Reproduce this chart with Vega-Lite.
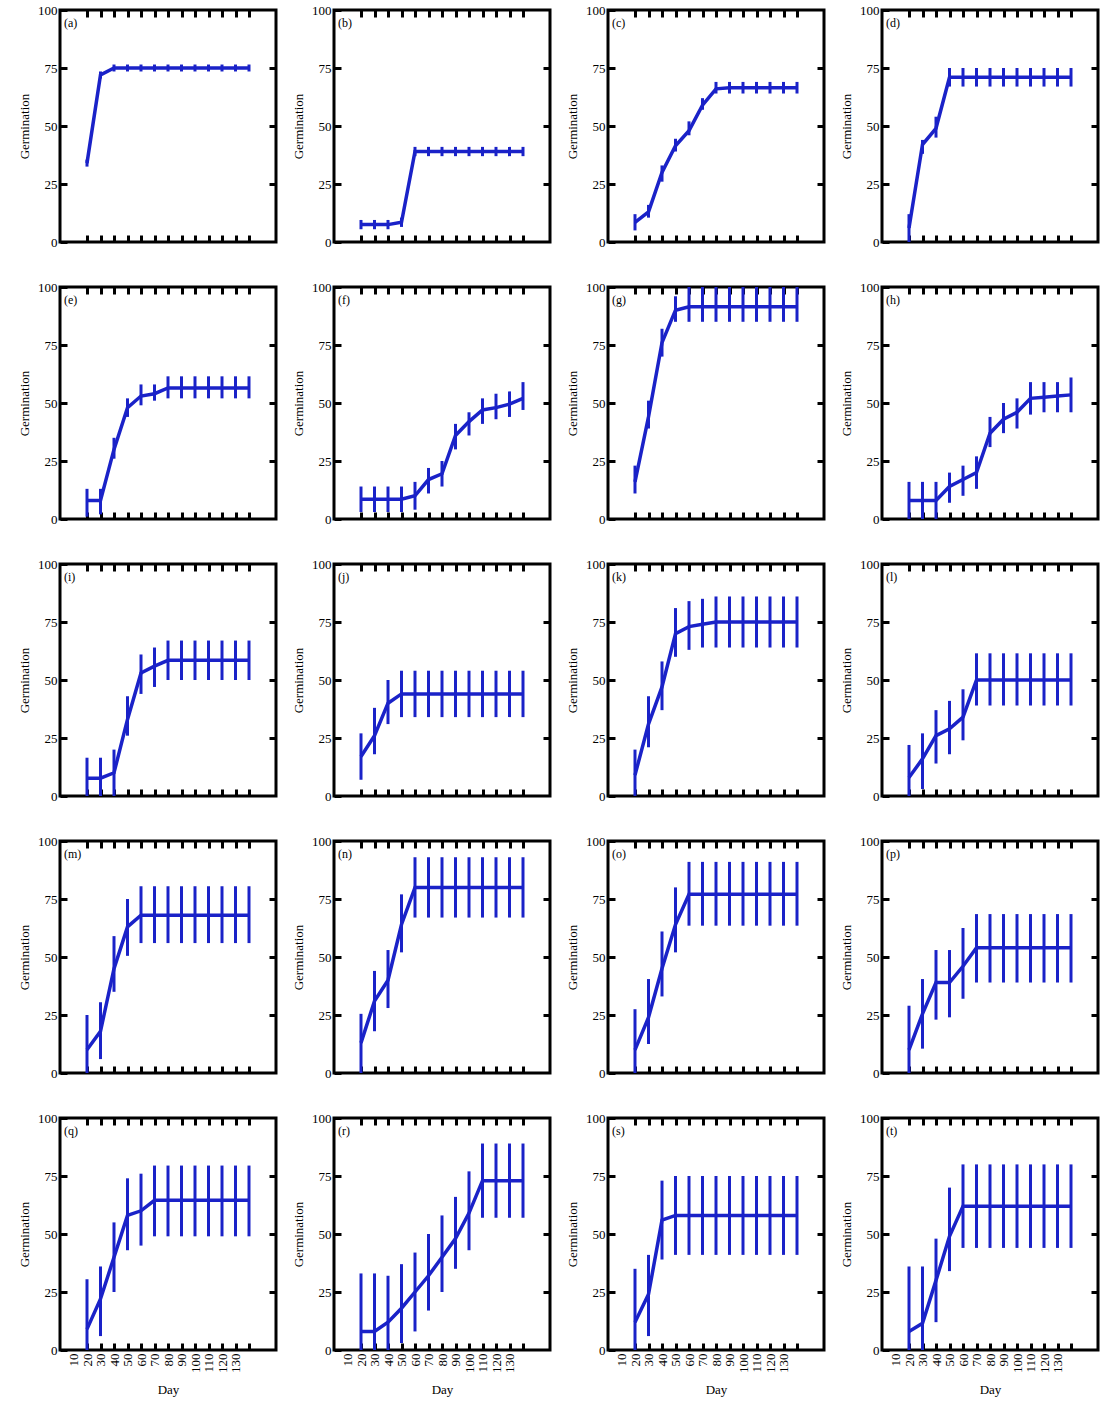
{
"$schema":"https://vega.github.io/schema/vega-lite/v6.json",
"background":"white",
"padding":{"left":17,"top":2,"right":0,"bottom":0},
"datasets":{"g":[
{"p":"a","d":20,"m":34,"lo":32.5,"hi":35.5},{"p":"a","d":30,"m":72,"lo":70.5,"hi":73.5},{"p":"a","d":40,"m":75,"lo":73.5,"hi":76.5},{"p":"a","d":50,"m":75,"lo":73.5,"hi":76.5},{"p":"a","d":60,"m":75,"lo":73.5,"hi":76.5},{"p":"a","d":70,"m":75,"lo":73.5,"hi":76.5},{"p":"a","d":80,"m":75,"lo":73.5,"hi":76.5},{"p":"a","d":90,"m":75,"lo":73.5,"hi":76.5},{"p":"a","d":100,"m":75,"lo":73.5,"hi":76.5},{"p":"a","d":110,"m":75,"lo":73.5,"hi":76.5},{"p":"a","d":120,"m":75,"lo":73.5,"hi":76.5},{"p":"a","d":130,"m":75,"lo":73.5,"hi":76.5},{"p":"a","d":140,"m":75,"lo":73.5,"hi":76.5},
{"p":"b","d":20,"m":7.5,"lo":5.5,"hi":9.5},{"p":"b","d":30,"m":7.5,"lo":5.5,"hi":9.5},{"p":"b","d":40,"m":7.5,"lo":5.5,"hi":9.5},{"p":"b","d":50,"m":8.5,"lo":6.5,"hi":10.5},{"p":"b","d":60,"m":39,"lo":37,"hi":41},{"p":"b","d":70,"m":39,"lo":37,"hi":41},{"p":"b","d":80,"m":39,"lo":37,"hi":41},{"p":"b","d":90,"m":39,"lo":37,"hi":41},{"p":"b","d":100,"m":39,"lo":37,"hi":41},{"p":"b","d":110,"m":39,"lo":37,"hi":41},{"p":"b","d":120,"m":39,"lo":37,"hi":41},{"p":"b","d":130,"m":39,"lo":37,"hi":41},{"p":"b","d":140,"m":39,"lo":37,"hi":41},
{"p":"c","d":20,"m":8.5,"lo":5,"hi":12},{"p":"c","d":30,"m":13,"lo":10.5,"hi":16},{"p":"c","d":40,"m":30,"lo":26,"hi":33},{"p":"c","d":50,"m":41.5,"lo":39,"hi":44.5},{"p":"c","d":60,"m":48,"lo":46,"hi":52},{"p":"c","d":70,"m":59,"lo":57,"hi":62},{"p":"c","d":80,"m":66,"lo":64,"hi":69},{"p":"c","d":90,"m":66.5,"lo":64,"hi":69},{"p":"c","d":100,"m":66.5,"lo":64,"hi":69},{"p":"c","d":110,"m":66.5,"lo":64,"hi":69},{"p":"c","d":120,"m":66.5,"lo":64,"hi":69},{"p":"c","d":130,"m":66.5,"lo":64,"hi":69},{"p":"c","d":140,"m":66.5,"lo":64,"hi":69},
{"p":"d","d":20,"m":6,"lo":0,"hi":12},{"p":"d","d":30,"m":42,"lo":38,"hi":44},{"p":"d","d":40,"m":49,"lo":45,"hi":54},{"p":"d","d":50,"m":71,"lo":67,"hi":75},{"p":"d","d":60,"m":71,"lo":67,"hi":75},{"p":"d","d":70,"m":71,"lo":67,"hi":75},{"p":"d","d":80,"m":71,"lo":67,"hi":75},{"p":"d","d":90,"m":71,"lo":67,"hi":75},{"p":"d","d":100,"m":71,"lo":67,"hi":75},{"p":"d","d":110,"m":71,"lo":67,"hi":75},{"p":"d","d":120,"m":71,"lo":67,"hi":75},{"p":"d","d":130,"m":71,"lo":67,"hi":75},{"p":"d","d":140,"m":71,"lo":67,"hi":75},
{"p":"e","d":20,"m":8,"lo":1,"hi":13},{"p":"e","d":30,"m":8,"lo":2,"hi":13},{"p":"e","d":40,"m":30,"lo":26,"hi":35},{"p":"e","d":50,"m":48,"lo":44,"hi":52},{"p":"e","d":60,"m":53,"lo":49,"hi":58},{"p":"e","d":70,"m":54,"lo":51,"hi":58},{"p":"e","d":80,"m":56.5,"lo":52,"hi":61.5},{"p":"e","d":90,"m":56.5,"lo":52,"hi":61.5},{"p":"e","d":100,"m":56.5,"lo":52,"hi":61.5},{"p":"e","d":110,"m":56.5,"lo":52,"hi":61.5},{"p":"e","d":120,"m":56.5,"lo":52,"hi":61.5},{"p":"e","d":130,"m":56.5,"lo":52,"hi":61.5},{"p":"e","d":140,"m":56.5,"lo":52,"hi":61.5},
{"p":"f","d":20,"m":8.5,"lo":3,"hi":14},{"p":"f","d":30,"m":8.5,"lo":3,"hi":14},{"p":"f","d":40,"m":8.5,"lo":3,"hi":14},{"p":"f","d":50,"m":8.5,"lo":3,"hi":14},{"p":"f","d":60,"m":10,"lo":4,"hi":16},{"p":"f","d":70,"m":17,"lo":11,"hi":22},{"p":"f","d":80,"m":19.5,"lo":14,"hi":25},{"p":"f","d":90,"m":36,"lo":30,"hi":41},{"p":"f","d":100,"m":42,"lo":36,"hi":46},{"p":"f","d":110,"m":47,"lo":41,"hi":52},{"p":"f","d":120,"m":48,"lo":43,"hi":54},{"p":"f","d":130,"m":49.5,"lo":44,"hi":55},{"p":"f","d":140,"m":52,"lo":47,"hi":59},
{"p":"g","d":20,"m":16,"lo":11,"hi":23},{"p":"g","d":30,"m":44,"lo":39,"hi":51},{"p":"g","d":40,"m":76,"lo":70,"hi":82},{"p":"g","d":50,"m":90,"lo":85,"hi":96},{"p":"g","d":60,"m":91.5,"lo":85,"hi":100},{"p":"g","d":70,"m":91.5,"lo":85,"hi":100},{"p":"g","d":80,"m":91.5,"lo":85,"hi":100},{"p":"g","d":90,"m":91.5,"lo":85,"hi":100},{"p":"g","d":100,"m":91.5,"lo":85,"hi":100},{"p":"g","d":110,"m":91.5,"lo":85,"hi":100},{"p":"g","d":120,"m":91.5,"lo":85,"hi":100},{"p":"g","d":130,"m":91.5,"lo":85,"hi":100},{"p":"g","d":140,"m":91.5,"lo":85,"hi":100},
{"p":"h","d":20,"m":8,"lo":0,"hi":16},{"p":"h","d":30,"m":8,"lo":0,"hi":16},{"p":"h","d":40,"m":8,"lo":0,"hi":16},{"p":"h","d":50,"m":14,"lo":7,"hi":20},{"p":"h","d":60,"m":17,"lo":10,"hi":23},{"p":"h","d":70,"m":20,"lo":13,"hi":27},{"p":"h","d":80,"m":37,"lo":31,"hi":44},{"p":"h","d":90,"m":43,"lo":37,"hi":50},{"p":"h","d":100,"m":46,"lo":39,"hi":52},{"p":"h","d":110,"m":52,"lo":45,"hi":59},{"p":"h","d":120,"m":52.5,"lo":46,"hi":59},{"p":"h","d":130,"m":53,"lo":46,"hi":59},{"p":"h","d":140,"m":53.5,"lo":46,"hi":61},
{"p":"i","d":20,"m":7.7,"lo":0,"hi":16.5},{"p":"i","d":30,"m":7.7,"lo":0,"hi":16.5},{"p":"i","d":40,"m":10,"lo":0,"hi":20},{"p":"i","d":50,"m":33,"lo":26,"hi":43},{"p":"i","d":60,"m":53,"lo":44,"hi":61},{"p":"i","d":70,"m":56,"lo":47,"hi":64},{"p":"i","d":80,"m":58.5,"lo":50,"hi":67},{"p":"i","d":90,"m":58.5,"lo":50,"hi":67},{"p":"i","d":100,"m":58.5,"lo":50,"hi":67},{"p":"i","d":110,"m":58.5,"lo":50,"hi":67},{"p":"i","d":120,"m":58.5,"lo":50,"hi":67},{"p":"i","d":130,"m":58.5,"lo":50,"hi":67},{"p":"i","d":140,"m":58.5,"lo":50,"hi":67},
{"p":"j","d":20,"m":17,"lo":7,"hi":27},{"p":"j","d":30,"m":26,"lo":18,"hi":38},{"p":"j","d":40,"m":40,"lo":31,"hi":50},{"p":"j","d":50,"m":44,"lo":34,"hi":54},{"p":"j","d":60,"m":44,"lo":34,"hi":54},{"p":"j","d":70,"m":44,"lo":34,"hi":54},{"p":"j","d":80,"m":44,"lo":34,"hi":54},{"p":"j","d":90,"m":44,"lo":34,"hi":54},{"p":"j","d":100,"m":44,"lo":34,"hi":54},{"p":"j","d":110,"m":44,"lo":34,"hi":54},{"p":"j","d":120,"m":44,"lo":34,"hi":54},{"p":"j","d":130,"m":44,"lo":34,"hi":54},{"p":"j","d":140,"m":44,"lo":34,"hi":54},
{"p":"k","d":20,"m":9,"lo":0,"hi":20},{"p":"k","d":30,"m":31,"lo":21,"hi":43},{"p":"k","d":40,"m":47,"lo":37,"hi":58},{"p":"k","d":50,"m":70,"lo":60,"hi":81},{"p":"k","d":60,"m":73,"lo":63,"hi":84},{"p":"k","d":70,"m":74,"lo":64,"hi":85},{"p":"k","d":80,"m":75,"lo":64,"hi":86},{"p":"k","d":90,"m":75,"lo":64,"hi":86},{"p":"k","d":100,"m":75,"lo":64,"hi":86},{"p":"k","d":110,"m":75,"lo":64,"hi":86},{"p":"k","d":120,"m":75,"lo":64,"hi":86},{"p":"k","d":130,"m":75,"lo":64,"hi":86},{"p":"k","d":140,"m":75,"lo":64,"hi":86},
{"p":"l","d":20,"m":8,"lo":0,"hi":22},{"p":"l","d":30,"m":16,"lo":3,"hi":27},{"p":"l","d":40,"m":26,"lo":14,"hi":37},{"p":"l","d":50,"m":29,"lo":18,"hi":41},{"p":"l","d":60,"m":34,"lo":24,"hi":46},{"p":"l","d":70,"m":50,"lo":39,"hi":61.5},{"p":"l","d":80,"m":50,"lo":39,"hi":61.5},{"p":"l","d":90,"m":50,"lo":39,"hi":61.5},{"p":"l","d":100,"m":50,"lo":39,"hi":61.5},{"p":"l","d":110,"m":50,"lo":39,"hi":61.5},{"p":"l","d":120,"m":50,"lo":39,"hi":61.5},{"p":"l","d":130,"m":50,"lo":39,"hi":61.5},{"p":"l","d":140,"m":50,"lo":39,"hi":61.5},
{"p":"m","d":20,"m":10,"lo":0,"hi":25},{"p":"m","d":30,"m":18,"lo":6,"hi":30.5},{"p":"m","d":40,"m":45,"lo":35,"hi":59},{"p":"m","d":50,"m":63,"lo":50.5,"hi":75},{"p":"m","d":60,"m":68,"lo":56,"hi":80.5},{"p":"m","d":70,"m":68,"lo":56,"hi":80.5},{"p":"m","d":80,"m":68,"lo":56,"hi":80.5},{"p":"m","d":90,"m":68,"lo":56,"hi":80.5},{"p":"m","d":100,"m":68,"lo":56,"hi":80.5},{"p":"m","d":110,"m":68,"lo":56,"hi":80.5},{"p":"m","d":120,"m":68,"lo":56,"hi":80.5},{"p":"m","d":130,"m":68,"lo":56,"hi":80.5},{"p":"m","d":140,"m":68,"lo":56,"hi":80.5},
{"p":"n","d":20,"m":13,"lo":0,"hi":25.5},{"p":"n","d":30,"m":31,"lo":18,"hi":44},{"p":"n","d":40,"m":40,"lo":28,"hi":53},{"p":"n","d":50,"m":64,"lo":52,"hi":77},{"p":"n","d":60,"m":80,"lo":67,"hi":93},{"p":"n","d":70,"m":80,"lo":67,"hi":93},{"p":"n","d":80,"m":80,"lo":67,"hi":93},{"p":"n","d":90,"m":80,"lo":67,"hi":93},{"p":"n","d":100,"m":80,"lo":67,"hi":93},{"p":"n","d":110,"m":80,"lo":67,"hi":93},{"p":"n","d":120,"m":80,"lo":67,"hi":93},{"p":"n","d":130,"m":80,"lo":67,"hi":93},{"p":"n","d":140,"m":80,"lo":67,"hi":93},
{"p":"o","d":20,"m":10,"lo":0,"hi":27.5},{"p":"o","d":30,"m":24,"lo":12.5,"hi":40.5},{"p":"o","d":40,"m":45,"lo":33,"hi":61},{"p":"o","d":50,"m":64,"lo":52,"hi":80},{"p":"o","d":60,"m":77,"lo":63.5,"hi":91},{"p":"o","d":70,"m":77,"lo":63.5,"hi":91},{"p":"o","d":80,"m":77,"lo":63.5,"hi":91},{"p":"o","d":90,"m":77,"lo":63.5,"hi":91},{"p":"o","d":100,"m":77,"lo":63.5,"hi":91},{"p":"o","d":110,"m":77,"lo":63.5,"hi":91},{"p":"o","d":120,"m":77,"lo":63.5,"hi":91},{"p":"o","d":130,"m":77,"lo":63.5,"hi":91},{"p":"o","d":140,"m":77,"lo":63.5,"hi":91},
{"p":"p","d":20,"m":10,"lo":0,"hi":29},{"p":"p","d":30,"m":25.5,"lo":10.5,"hi":40.5},{"p":"p","d":40,"m":39,"lo":23,"hi":53},{"p":"p","d":50,"m":39,"lo":24,"hi":53},{"p":"p","d":60,"m":46,"lo":32,"hi":62.5},{"p":"p","d":70,"m":54,"lo":39,"hi":68.5},{"p":"p","d":80,"m":54,"lo":39,"hi":68.5},{"p":"p","d":90,"m":54,"lo":39,"hi":68.5},{"p":"p","d":100,"m":54,"lo":39,"hi":68.5},{"p":"p","d":110,"m":54,"lo":39,"hi":68.5},{"p":"p","d":120,"m":54,"lo":39,"hi":68.5},{"p":"p","d":130,"m":54,"lo":39,"hi":68.5},{"p":"p","d":140,"m":54,"lo":39,"hi":68.5},
{"p":"q","d":20,"m":9,"lo":0,"hi":30.5},{"p":"q","d":30,"m":22,"lo":6,"hi":36},{"p":"q","d":40,"m":40,"lo":25,"hi":55},{"p":"q","d":50,"m":58,"lo":43,"hi":74},{"p":"q","d":60,"m":60,"lo":45,"hi":76},{"p":"q","d":70,"m":64.5,"lo":49,"hi":79.5},{"p":"q","d":80,"m":64.5,"lo":49,"hi":79.5},{"p":"q","d":90,"m":64.5,"lo":49,"hi":79.5},{"p":"q","d":100,"m":64.5,"lo":49,"hi":79.5},{"p":"q","d":110,"m":64.5,"lo":49,"hi":79.5},{"p":"q","d":120,"m":64.5,"lo":49,"hi":79.5},{"p":"q","d":130,"m":64.5,"lo":49,"hi":79.5},{"p":"q","d":140,"m":64.5,"lo":49,"hi":79.5},
{"p":"r","d":20,"m":8,"lo":0,"hi":33},{"p":"r","d":30,"m":8,"lo":0,"hi":33},{"p":"r","d":40,"m":12,"lo":0,"hi":32},{"p":"r","d":50,"m":18,"lo":3,"hi":37},{"p":"r","d":60,"m":25,"lo":8,"hi":42},{"p":"r","d":70,"m":32,"lo":17,"hi":50},{"p":"r","d":80,"m":40,"lo":25,"hi":58},{"p":"r","d":90,"m":48,"lo":35,"hi":66},{"p":"r","d":100,"m":59,"lo":43,"hi":77},{"p":"r","d":110,"m":73,"lo":57,"hi":89},{"p":"r","d":120,"m":73,"lo":57,"hi":89},{"p":"r","d":130,"m":73,"lo":57,"hi":89},{"p":"r","d":140,"m":73,"lo":57,"hi":89},
{"p":"s","d":20,"m":12,"lo":0,"hi":35},{"p":"s","d":30,"m":24,"lo":6,"hi":41},{"p":"s","d":40,"m":56,"lo":39,"hi":73},{"p":"s","d":50,"m":58,"lo":41,"hi":75},{"p":"s","d":60,"m":58,"lo":41,"hi":75},{"p":"s","d":70,"m":58,"lo":41,"hi":75},{"p":"s","d":80,"m":58,"lo":41,"hi":75},{"p":"s","d":90,"m":58,"lo":41,"hi":75},{"p":"s","d":100,"m":58,"lo":41,"hi":75},{"p":"s","d":110,"m":58,"lo":41,"hi":75},{"p":"s","d":120,"m":58,"lo":41,"hi":75},{"p":"s","d":130,"m":58,"lo":41,"hi":75},{"p":"s","d":140,"m":58,"lo":41,"hi":75},
{"p":"t","d":20,"m":8,"lo":0,"hi":36},{"p":"t","d":30,"m":11.5,"lo":0,"hi":36},{"p":"t","d":40,"m":30,"lo":12,"hi":48},{"p":"t","d":50,"m":49,"lo":34,"hi":70},{"p":"t","d":60,"m":62,"lo":44,"hi":80},{"p":"t","d":70,"m":62,"lo":44,"hi":80},{"p":"t","d":80,"m":62,"lo":44,"hi":80},{"p":"t","d":90,"m":62,"lo":44,"hi":80},{"p":"t","d":100,"m":62,"lo":44,"hi":80},{"p":"t","d":110,"m":62,"lo":44,"hi":80},{"p":"t","d":120,"m":62,"lo":44,"hi":80},{"p":"t","d":130,"m":62,"lo":44,"hi":80},{"p":"t","d":140,"m":62,"lo":44,"hi":80}
]},
"data":{"name":"g"},
"config":{
 "view":{"stroke":"#000","strokeWidth":3},
 "axis":{"domain":false,"grid":false,"tickColor":"#000","tickWidth":3,"tickSize":-7,"labelFont":"Liberation Serif","labelFontSize":13,"labelColor":"#000","labelPadding":10,"titleFont":"Liberation Serif","titleFontSize":13,"titleFontWeight":"normal","titleColor":"#000","titlePadding":6},
 "title":{"anchor":"start","frame":"group","offset":-26,"font":"Liberation Serif","fontSize":12,"fontWeight":"normal","color":"#000","dx":4}
},
"spacing":28,
"vconcat":[
{"spacing":12,"hconcat":[
{"width":216,"height":232,"title":"(a)","transform":[{"filter":"datum.p=='a'"}],"layer":[
 {"mark":{"type":"rule","color":"#1a22c8","strokeWidth":3},"encoding":{"x":{"field":"d","type":"quantitative","scale":{"domain":[9,151]},"axis":{"orient":"bottom","values":[20,30,40,50,60,70,80,90,100,110,120,130,140],"labels":false,"title":null}},"y":{"field":"lo","type":"quantitative","scale":{"domain":[0,100]},"axis":{"orient":"left","values":[0,25,50,75,100],"title":"Germination"}},"y2":{"field":"hi"}}},
 {"mark":{"type":"line","color":"#1a22c8","strokeWidth":3.5},"encoding":{"x":{"field":"d","type":"quantitative","axis":{"orient":"top","values":[20,30,40,50,60,70,80,90,100,110,120,130,140],"labels":false,"title":null}},"y":{"field":"m","type":"quantitative","axis":{"orient":"right","values":[25,50,75],"labels":false,"title":null}}}}
],"resolve":{"axis":{"x":"independent","y":"independent"}}},
{"width":216,"height":232,"title":"(b)","transform":[{"filter":"datum.p=='b'"}],"layer":[
 {"mark":{"type":"rule","color":"#1a22c8","strokeWidth":3},"encoding":{"x":{"field":"d","type":"quantitative","scale":{"domain":[9,151]},"axis":{"orient":"bottom","values":[20,30,40,50,60,70,80,90,100,110,120,130,140],"labels":false,"title":null}},"y":{"field":"lo","type":"quantitative","scale":{"domain":[0,100]},"axis":{"orient":"left","values":[0,25,50,75,100],"title":"Germination"}},"y2":{"field":"hi"}}},
 {"mark":{"type":"line","color":"#1a22c8","strokeWidth":3.5},"encoding":{"x":{"field":"d","type":"quantitative","axis":{"orient":"top","values":[20,30,40,50,60,70,80,90,100,110,120,130,140],"labels":false,"title":null}},"y":{"field":"m","type":"quantitative","axis":{"orient":"right","values":[25,50,75],"labels":false,"title":null}}}}
],"resolve":{"axis":{"x":"independent","y":"independent"}}},
{"width":216,"height":232,"title":"(c)","transform":[{"filter":"datum.p=='c'"}],"layer":[
 {"mark":{"type":"rule","color":"#1a22c8","strokeWidth":3},"encoding":{"x":{"field":"d","type":"quantitative","scale":{"domain":[9,151]},"axis":{"orient":"bottom","values":[20,30,40,50,60,70,80,90,100,110,120,130,140],"labels":false,"title":null}},"y":{"field":"lo","type":"quantitative","scale":{"domain":[0,100]},"axis":{"orient":"left","values":[0,25,50,75,100],"title":"Germination"}},"y2":{"field":"hi"}}},
 {"mark":{"type":"line","color":"#1a22c8","strokeWidth":3.5},"encoding":{"x":{"field":"d","type":"quantitative","axis":{"orient":"top","values":[20,30,40,50,60,70,80,90,100,110,120,130,140],"labels":false,"title":null}},"y":{"field":"m","type":"quantitative","axis":{"orient":"right","values":[25,50,75],"labels":false,"title":null}}}}
],"resolve":{"axis":{"x":"independent","y":"independent"}}},
{"width":216,"height":232,"title":"(d)","transform":[{"filter":"datum.p=='d'"}],"layer":[
 {"mark":{"type":"rule","color":"#1a22c8","strokeWidth":3},"encoding":{"x":{"field":"d","type":"quantitative","scale":{"domain":[9,151]},"axis":{"orient":"bottom","values":[20,30,40,50,60,70,80,90,100,110,120,130,140],"labels":false,"title":null}},"y":{"field":"lo","type":"quantitative","scale":{"domain":[0,100]},"axis":{"orient":"left","values":[0,25,50,75,100],"title":"Germination"}},"y2":{"field":"hi"}}},
 {"mark":{"type":"line","color":"#1a22c8","strokeWidth":3.5},"encoding":{"x":{"field":"d","type":"quantitative","axis":{"orient":"top","values":[20,30,40,50,60,70,80,90,100,110,120,130,140],"labels":false,"title":null}},"y":{"field":"m","type":"quantitative","axis":{"orient":"right","values":[25,50,75],"labels":false,"title":null}}}}
],"resolve":{"axis":{"x":"independent","y":"independent"}}}
]},
{"spacing":12,"hconcat":[
{"width":216,"height":232,"title":"(e)","transform":[{"filter":"datum.p=='e'"}],"layer":[
 {"mark":{"type":"rule","color":"#1a22c8","strokeWidth":3},"encoding":{"x":{"field":"d","type":"quantitative","scale":{"domain":[9,151]},"axis":{"orient":"bottom","values":[20,30,40,50,60,70,80,90,100,110,120,130,140],"labels":false,"title":null}},"y":{"field":"lo","type":"quantitative","scale":{"domain":[0,100]},"axis":{"orient":"left","values":[0,25,50,75,100],"title":"Germination"}},"y2":{"field":"hi"}}},
 {"mark":{"type":"line","color":"#1a22c8","strokeWidth":3.5},"encoding":{"x":{"field":"d","type":"quantitative","axis":{"orient":"top","values":[20,30,40,50,60,70,80,90,100,110,120,130,140],"labels":false,"title":null}},"y":{"field":"m","type":"quantitative","axis":{"orient":"right","values":[25,50,75],"labels":false,"title":null}}}}
],"resolve":{"axis":{"x":"independent","y":"independent"}}},
{"width":216,"height":232,"title":"(f)","transform":[{"filter":"datum.p=='f'"}],"layer":[
 {"mark":{"type":"rule","color":"#1a22c8","strokeWidth":3},"encoding":{"x":{"field":"d","type":"quantitative","scale":{"domain":[9,151]},"axis":{"orient":"bottom","values":[20,30,40,50,60,70,80,90,100,110,120,130,140],"labels":false,"title":null}},"y":{"field":"lo","type":"quantitative","scale":{"domain":[0,100]},"axis":{"orient":"left","values":[0,25,50,75,100],"title":"Germination"}},"y2":{"field":"hi"}}},
 {"mark":{"type":"line","color":"#1a22c8","strokeWidth":3.5},"encoding":{"x":{"field":"d","type":"quantitative","axis":{"orient":"top","values":[20,30,40,50,60,70,80,90,100,110,120,130,140],"labels":false,"title":null}},"y":{"field":"m","type":"quantitative","axis":{"orient":"right","values":[25,50,75],"labels":false,"title":null}}}}
],"resolve":{"axis":{"x":"independent","y":"independent"}}},
{"width":216,"height":232,"title":"(g)","transform":[{"filter":"datum.p=='g'"}],"layer":[
 {"mark":{"type":"rule","color":"#1a22c8","strokeWidth":3},"encoding":{"x":{"field":"d","type":"quantitative","scale":{"domain":[9,151]},"axis":{"orient":"bottom","values":[20,30,40,50,60,70,80,90,100,110,120,130,140],"labels":false,"title":null}},"y":{"field":"lo","type":"quantitative","scale":{"domain":[0,100]},"axis":{"orient":"left","values":[0,25,50,75,100],"title":"Germination"}},"y2":{"field":"hi"}}},
 {"mark":{"type":"line","color":"#1a22c8","strokeWidth":3.5},"encoding":{"x":{"field":"d","type":"quantitative","axis":{"orient":"top","values":[20,30,40,50,60,70,80,90,100,110,120,130,140],"labels":false,"title":null}},"y":{"field":"m","type":"quantitative","axis":{"orient":"right","values":[25,50,75],"labels":false,"title":null}}}}
],"resolve":{"axis":{"x":"independent","y":"independent"}}},
{"width":216,"height":232,"title":"(h)","transform":[{"filter":"datum.p=='h'"}],"layer":[
 {"mark":{"type":"rule","color":"#1a22c8","strokeWidth":3},"encoding":{"x":{"field":"d","type":"quantitative","scale":{"domain":[9,151]},"axis":{"orient":"bottom","values":[20,30,40,50,60,70,80,90,100,110,120,130,140],"labels":false,"title":null}},"y":{"field":"lo","type":"quantitative","scale":{"domain":[0,100]},"axis":{"orient":"left","values":[0,25,50,75,100],"title":"Germination"}},"y2":{"field":"hi"}}},
 {"mark":{"type":"line","color":"#1a22c8","strokeWidth":3.5},"encoding":{"x":{"field":"d","type":"quantitative","axis":{"orient":"top","values":[20,30,40,50,60,70,80,90,100,110,120,130,140],"labels":false,"title":null}},"y":{"field":"m","type":"quantitative","axis":{"orient":"right","values":[25,50,75],"labels":false,"title":null}}}}
],"resolve":{"axis":{"x":"independent","y":"independent"}}}
]},
{"spacing":12,"hconcat":[
{"width":216,"height":232,"title":"(i)","transform":[{"filter":"datum.p=='i'"}],"layer":[
 {"mark":{"type":"rule","color":"#1a22c8","strokeWidth":3},"encoding":{"x":{"field":"d","type":"quantitative","scale":{"domain":[9,151]},"axis":{"orient":"bottom","values":[20,30,40,50,60,70,80,90,100,110,120,130,140],"labels":false,"title":null}},"y":{"field":"lo","type":"quantitative","scale":{"domain":[0,100]},"axis":{"orient":"left","values":[0,25,50,75,100],"title":"Germination"}},"y2":{"field":"hi"}}},
 {"mark":{"type":"line","color":"#1a22c8","strokeWidth":3.5},"encoding":{"x":{"field":"d","type":"quantitative","axis":{"orient":"top","values":[20,30,40,50,60,70,80,90,100,110,120,130,140],"labels":false,"title":null}},"y":{"field":"m","type":"quantitative","axis":{"orient":"right","values":[25,50,75],"labels":false,"title":null}}}}
],"resolve":{"axis":{"x":"independent","y":"independent"}}},
{"width":216,"height":232,"title":"(j)","transform":[{"filter":"datum.p=='j'"}],"layer":[
 {"mark":{"type":"rule","color":"#1a22c8","strokeWidth":3},"encoding":{"x":{"field":"d","type":"quantitative","scale":{"domain":[9,151]},"axis":{"orient":"bottom","values":[20,30,40,50,60,70,80,90,100,110,120,130,140],"labels":false,"title":null}},"y":{"field":"lo","type":"quantitative","scale":{"domain":[0,100]},"axis":{"orient":"left","values":[0,25,50,75,100],"title":"Germination"}},"y2":{"field":"hi"}}},
 {"mark":{"type":"line","color":"#1a22c8","strokeWidth":3.5},"encoding":{"x":{"field":"d","type":"quantitative","axis":{"orient":"top","values":[20,30,40,50,60,70,80,90,100,110,120,130,140],"labels":false,"title":null}},"y":{"field":"m","type":"quantitative","axis":{"orient":"right","values":[25,50,75],"labels":false,"title":null}}}}
],"resolve":{"axis":{"x":"independent","y":"independent"}}},
{"width":216,"height":232,"title":"(k)","transform":[{"filter":"datum.p=='k'"}],"layer":[
 {"mark":{"type":"rule","color":"#1a22c8","strokeWidth":3},"encoding":{"x":{"field":"d","type":"quantitative","scale":{"domain":[9,151]},"axis":{"orient":"bottom","values":[20,30,40,50,60,70,80,90,100,110,120,130,140],"labels":false,"title":null}},"y":{"field":"lo","type":"quantitative","scale":{"domain":[0,100]},"axis":{"orient":"left","values":[0,25,50,75,100],"title":"Germination"}},"y2":{"field":"hi"}}},
 {"mark":{"type":"line","color":"#1a22c8","strokeWidth":3.5},"encoding":{"x":{"field":"d","type":"quantitative","axis":{"orient":"top","values":[20,30,40,50,60,70,80,90,100,110,120,130,140],"labels":false,"title":null}},"y":{"field":"m","type":"quantitative","axis":{"orient":"right","values":[25,50,75],"labels":false,"title":null}}}}
],"resolve":{"axis":{"x":"independent","y":"independent"}}},
{"width":216,"height":232,"title":"(l)","transform":[{"filter":"datum.p=='l'"}],"layer":[
 {"mark":{"type":"rule","color":"#1a22c8","strokeWidth":3},"encoding":{"x":{"field":"d","type":"quantitative","scale":{"domain":[9,151]},"axis":{"orient":"bottom","values":[20,30,40,50,60,70,80,90,100,110,120,130,140],"labels":false,"title":null}},"y":{"field":"lo","type":"quantitative","scale":{"domain":[0,100]},"axis":{"orient":"left","values":[0,25,50,75,100],"title":"Germination"}},"y2":{"field":"hi"}}},
 {"mark":{"type":"line","color":"#1a22c8","strokeWidth":3.5},"encoding":{"x":{"field":"d","type":"quantitative","axis":{"orient":"top","values":[20,30,40,50,60,70,80,90,100,110,120,130,140],"labels":false,"title":null}},"y":{"field":"m","type":"quantitative","axis":{"orient":"right","values":[25,50,75],"labels":false,"title":null}}}}
],"resolve":{"axis":{"x":"independent","y":"independent"}}}
]},
{"spacing":12,"hconcat":[
{"width":216,"height":232,"title":"(m)","transform":[{"filter":"datum.p=='m'"}],"layer":[
 {"mark":{"type":"rule","color":"#1a22c8","strokeWidth":3},"encoding":{"x":{"field":"d","type":"quantitative","scale":{"domain":[9,151]},"axis":{"orient":"bottom","values":[20,30,40,50,60,70,80,90,100,110,120,130,140],"labels":false,"title":null}},"y":{"field":"lo","type":"quantitative","scale":{"domain":[0,100]},"axis":{"orient":"left","values":[0,25,50,75,100],"title":"Germination"}},"y2":{"field":"hi"}}},
 {"mark":{"type":"line","color":"#1a22c8","strokeWidth":3.5},"encoding":{"x":{"field":"d","type":"quantitative","axis":{"orient":"top","values":[20,30,40,50,60,70,80,90,100,110,120,130,140],"labels":false,"title":null}},"y":{"field":"m","type":"quantitative","axis":{"orient":"right","values":[25,50,75],"labels":false,"title":null}}}}
],"resolve":{"axis":{"x":"independent","y":"independent"}}},
{"width":216,"height":232,"title":"(n)","transform":[{"filter":"datum.p=='n'"}],"layer":[
 {"mark":{"type":"rule","color":"#1a22c8","strokeWidth":3},"encoding":{"x":{"field":"d","type":"quantitative","scale":{"domain":[9,151]},"axis":{"orient":"bottom","values":[20,30,40,50,60,70,80,90,100,110,120,130,140],"labels":false,"title":null}},"y":{"field":"lo","type":"quantitative","scale":{"domain":[0,100]},"axis":{"orient":"left","values":[0,25,50,75,100],"title":"Germination"}},"y2":{"field":"hi"}}},
 {"mark":{"type":"line","color":"#1a22c8","strokeWidth":3.5},"encoding":{"x":{"field":"d","type":"quantitative","axis":{"orient":"top","values":[20,30,40,50,60,70,80,90,100,110,120,130,140],"labels":false,"title":null}},"y":{"field":"m","type":"quantitative","axis":{"orient":"right","values":[25,50,75],"labels":false,"title":null}}}}
],"resolve":{"axis":{"x":"independent","y":"independent"}}},
{"width":216,"height":232,"title":"(o)","transform":[{"filter":"datum.p=='o'"}],"layer":[
 {"mark":{"type":"rule","color":"#1a22c8","strokeWidth":3},"encoding":{"x":{"field":"d","type":"quantitative","scale":{"domain":[9,151]},"axis":{"orient":"bottom","values":[20,30,40,50,60,70,80,90,100,110,120,130,140],"labels":false,"title":null}},"y":{"field":"lo","type":"quantitative","scale":{"domain":[0,100]},"axis":{"orient":"left","values":[0,25,50,75,100],"title":"Germination"}},"y2":{"field":"hi"}}},
 {"mark":{"type":"line","color":"#1a22c8","strokeWidth":3.5},"encoding":{"x":{"field":"d","type":"quantitative","axis":{"orient":"top","values":[20,30,40,50,60,70,80,90,100,110,120,130,140],"labels":false,"title":null}},"y":{"field":"m","type":"quantitative","axis":{"orient":"right","values":[25,50,75],"labels":false,"title":null}}}}
],"resolve":{"axis":{"x":"independent","y":"independent"}}},
{"width":216,"height":232,"title":"(p)","transform":[{"filter":"datum.p=='p'"}],"layer":[
 {"mark":{"type":"rule","color":"#1a22c8","strokeWidth":3},"encoding":{"x":{"field":"d","type":"quantitative","scale":{"domain":[9,151]},"axis":{"orient":"bottom","values":[20,30,40,50,60,70,80,90,100,110,120,130,140],"labels":false,"title":null}},"y":{"field":"lo","type":"quantitative","scale":{"domain":[0,100]},"axis":{"orient":"left","values":[0,25,50,75,100],"title":"Germination"}},"y2":{"field":"hi"}}},
 {"mark":{"type":"line","color":"#1a22c8","strokeWidth":3.5},"encoding":{"x":{"field":"d","type":"quantitative","axis":{"orient":"top","values":[20,30,40,50,60,70,80,90,100,110,120,130,140],"labels":false,"title":null}},"y":{"field":"m","type":"quantitative","axis":{"orient":"right","values":[25,50,75],"labels":false,"title":null}}}}
],"resolve":{"axis":{"x":"independent","y":"independent"}}}
]},
{"spacing":12,"hconcat":[
{"width":216,"height":232,"title":"(q)","transform":[{"filter":"datum.p=='q'"}],"layer":[
 {"mark":{"type":"rule","color":"#1a22c8","strokeWidth":3},"encoding":{"x":{"field":"d","type":"quantitative","scale":{"domain":[9,151]},"axis":{"orient":"bottom","values":[10,20,30,40,50,60,70,80,90,100,110,120,130,140],"labelAngle":270,"labelExpr":"datum.value>135?'':datum.label","tickOpacity":{"condition":{"test":"datum.value<15","value":0},"value":1},"title":"Day","titlePadding":11}},"y":{"field":"lo","type":"quantitative","scale":{"domain":[0,100]},"axis":{"orient":"left","values":[0,25,50,75,100],"title":"Germination"}},"y2":{"field":"hi"}}},
 {"mark":{"type":"line","color":"#1a22c8","strokeWidth":3.5},"encoding":{"x":{"field":"d","type":"quantitative","axis":{"orient":"top","values":[20,30,40,50,60,70,80,90,100,110,120,130,140],"labels":false,"title":null}},"y":{"field":"m","type":"quantitative","axis":{"orient":"right","values":[25,50,75],"labels":false,"title":null}}}}
],"resolve":{"axis":{"x":"independent","y":"independent"}}},
{"width":216,"height":232,"title":"(r)","transform":[{"filter":"datum.p=='r'"}],"layer":[
 {"mark":{"type":"rule","color":"#1a22c8","strokeWidth":3},"encoding":{"x":{"field":"d","type":"quantitative","scale":{"domain":[9,151]},"axis":{"orient":"bottom","values":[10,20,30,40,50,60,70,80,90,100,110,120,130,140],"labelAngle":270,"labelExpr":"datum.value>135?'':datum.label","tickOpacity":{"condition":{"test":"datum.value<15","value":0},"value":1},"title":"Day","titlePadding":11}},"y":{"field":"lo","type":"quantitative","scale":{"domain":[0,100]},"axis":{"orient":"left","values":[0,25,50,75,100],"title":"Germination"}},"y2":{"field":"hi"}}},
 {"mark":{"type":"line","color":"#1a22c8","strokeWidth":3.5},"encoding":{"x":{"field":"d","type":"quantitative","axis":{"orient":"top","values":[20,30,40,50,60,70,80,90,100,110,120,130,140],"labels":false,"title":null}},"y":{"field":"m","type":"quantitative","axis":{"orient":"right","values":[25,50,75],"labels":false,"title":null}}}}
],"resolve":{"axis":{"x":"independent","y":"independent"}}},
{"width":216,"height":232,"title":"(s)","transform":[{"filter":"datum.p=='s'"}],"layer":[
 {"mark":{"type":"rule","color":"#1a22c8","strokeWidth":3},"encoding":{"x":{"field":"d","type":"quantitative","scale":{"domain":[9,151]},"axis":{"orient":"bottom","values":[10,20,30,40,50,60,70,80,90,100,110,120,130,140],"labelAngle":270,"labelExpr":"datum.value>135?'':datum.label","tickOpacity":{"condition":{"test":"datum.value<15","value":0},"value":1},"title":"Day","titlePadding":11}},"y":{"field":"lo","type":"quantitative","scale":{"domain":[0,100]},"axis":{"orient":"left","values":[0,25,50,75,100],"title":"Germination"}},"y2":{"field":"hi"}}},
 {"mark":{"type":"line","color":"#1a22c8","strokeWidth":3.5},"encoding":{"x":{"field":"d","type":"quantitative","axis":{"orient":"top","values":[20,30,40,50,60,70,80,90,100,110,120,130,140],"labels":false,"title":null}},"y":{"field":"m","type":"quantitative","axis":{"orient":"right","values":[25,50,75],"labels":false,"title":null}}}}
],"resolve":{"axis":{"x":"independent","y":"independent"}}},
{"width":216,"height":232,"title":"(t)","transform":[{"filter":"datum.p=='t'"}],"layer":[
 {"mark":{"type":"rule","color":"#1a22c8","strokeWidth":3},"encoding":{"x":{"field":"d","type":"quantitative","scale":{"domain":[9,151]},"axis":{"orient":"bottom","values":[10,20,30,40,50,60,70,80,90,100,110,120,130,140],"labelAngle":270,"labelExpr":"datum.value>135?'':datum.label","tickOpacity":{"condition":{"test":"datum.value<15","value":0},"value":1},"title":"Day","titlePadding":11}},"y":{"field":"lo","type":"quantitative","scale":{"domain":[0,100]},"axis":{"orient":"left","values":[0,25,50,75,100],"title":"Germination"}},"y2":{"field":"hi"}}},
 {"mark":{"type":"line","color":"#1a22c8","strokeWidth":3.5},"encoding":{"x":{"field":"d","type":"quantitative","axis":{"orient":"top","values":[20,30,40,50,60,70,80,90,100,110,120,130,140],"labels":false,"title":null}},"y":{"field":"m","type":"quantitative","axis":{"orient":"right","values":[25,50,75],"labels":false,"title":null}}}}
],"resolve":{"axis":{"x":"independent","y":"independent"}}}
]}
]
}
